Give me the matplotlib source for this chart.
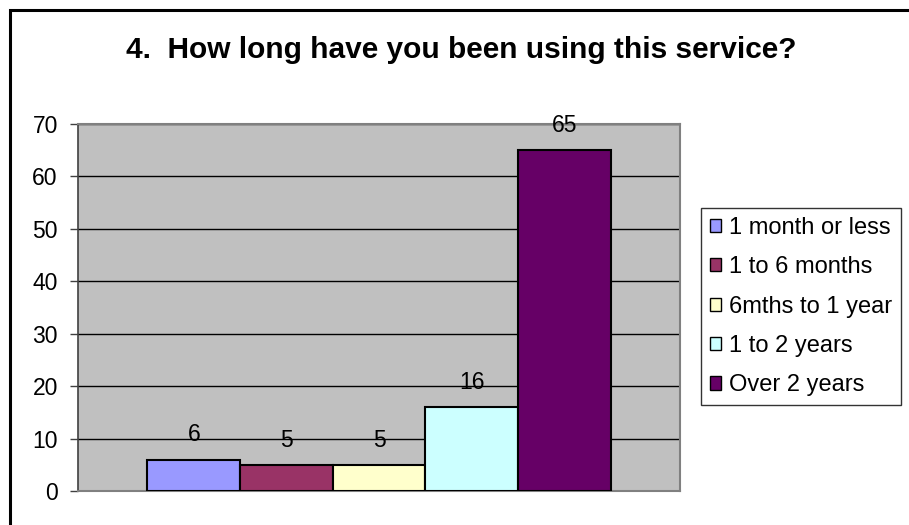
import matplotlib
matplotlib.use("Agg")
import matplotlib.pyplot as plt
from matplotlib.patches import Rectangle

# Survey responses
categories = ["1 month or less", "1 to 6 months", "6mths to 1 year", "1 to 2 years", "Over 2 years"]
counts = [6, 5, 5, 16, 65]
colors = ["#9999FF", "#993366", "#FFFFCC", "#CCFFFF", "#660066"]
title = "4.  How long have you been using this service?"
yticks = [0, 10, 20, 30, 40, 50, 60, 70]

plt.rcParams["font.family"] = ["Liberation Sans", "DejaVu Sans"]

W, H = 909, 525
fig = plt.figure(figsize=(W / 100, H / 100), dpi=100)
fig.patch.set_facecolor("white")

# chart frame (open to the right and bottom)
fig.add_artist(Rectangle((10 / W, -0.1), 1.2, 1 - 10 / H + 0.1, transform=fig.transFigure,
                         fill=False, edgecolor="black", linewidth=2.2, zorder=0))

ax = fig.add_axes([78 / W, 1 - 491 / H, 602 / W, 367 / H])
ax.set_facecolor("#C0C0C0")

n = len(counts)
bar_w = 1.0
gap = 1.5 * bar_w
xs = [i * bar_w for i in range(n)]
bars = []
for x, v, c, lab in zip(xs, counts, colors, categories):
    b = ax.bar(x, v, width=bar_w, align="edge", color=c, edgecolor="black",
               linewidth=1.5, label=lab, zorder=3)
    bars.append(b)
    ax.annotate(str(v), (x + bar_w / 2, v), xytext=(0, 13), textcoords="offset points",
                ha="center", va="baseline", fontsize=16.5, color="black", zorder=4)

ax.set_xlim(-gap / 2, n * bar_w + gap / 2)
ax.set_ylim(0, 70)
ax.set_yticks(yticks)
ax.set_yticklabels([str(t) for t in yticks], fontsize=16.5)
ax.set_xticks([])
ax.yaxis.grid(True, color="black", linewidth=1.0, zorder=1)
ax.set_axisbelow(True)
ax.tick_params(axis="y", direction="out", length=6, width=1, color="#404040", pad=8.5)

for side in ["top", "right", "bottom"]:
    ax.spines[side].set_color("#808080")
    ax.spines[side].set_linewidth(1.5)
ax.spines["left"].set_color("#404040")
ax.spines["left"].set_linewidth(1.2)

fig.text(461 / W, 1 - 58 / H, title, ha="center", va="baseline",
         fontsize=21.5, fontweight="bold")

leg = fig.legend(handles=[b[0] for b in bars], labels=categories,
                 loc="center left", bbox_to_anchor=(701 / W, 1 - 306.5 / H),
                 fontsize=17, frameon=True, fancybox=False, edgecolor="black",
                 handlelength=0.48, handleheight=0.48, handletextpad=0.35,
                 labelspacing=0.74, borderpad=0.37, borderaxespad=0)
leg.get_frame().set_linewidth(1.0)
for h in leg.legend_handles:
    h.set_linewidth(1.0)

fig.savefig("out.png", dpi=100)
